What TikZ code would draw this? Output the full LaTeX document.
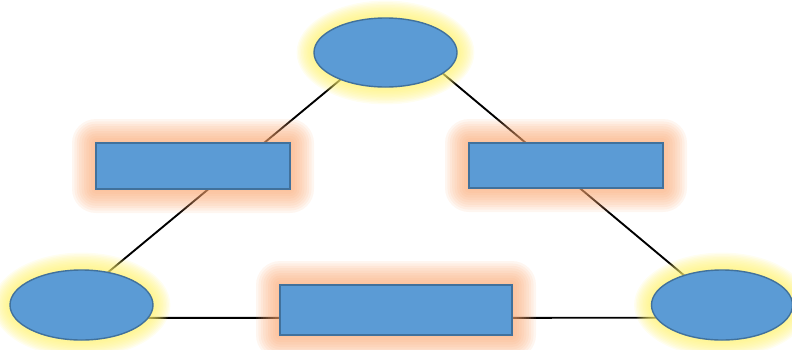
\documentclass[tikz,border=0pt]{standalone}
\usetikzlibrary{shapes.geometric,calc}
\definecolor{nodefill}{RGB}{91,155,213}
\definecolor{nodeline}{RGB}{65,113,156}
\definecolor{glowY}{RGB}{255,242,110}
\definecolor{glowO}{RGB}{250,165,110}
\pgfdeclarelayer{bg}
\pgfdeclarelayer{glow}
\pgfsetlayers{bg,glow,main}
\tikzset{
  ell/.style={ellipse, draw=nodeline, fill=nodefill, line width=1.4pt, inner sep=0pt, outer sep=0pt, minimum width=143pt, minimum height=69pt},
  box/.style={rectangle, draw=nodeline, fill=nodefill, line width=1.6pt, inner sep=0pt, outer sep=0pt, minimum width=194pt, minimum height=46pt},
  link/.style={line width=1.9pt, black}
}
\begin{document}
\begin{tikzpicture}[x=1pt,y=-1pt]
\useasboundingbox (0,0) rectangle (792,349);
\clip (0,0) rectangle (792,349);
\node[ell] (top) at (385.5,52.5) {};
\node[ell, minimum height=70pt] (bl) at (81.5,305) {};
\node[ell, minimum width=141pt, minimum height=70pt] (br) at (722,305) {};
\node[box] (lb) at (193,166) {};
\node[box, minimum height=45pt] (rb) at (566,165.5) {};
\node[box, minimum width=232pt, minimum height=50pt] (bb) at (396,310) {};
\begin{pgfonlayer}{bg}
  \draw[link] (top.211) -- (bl.51);
  \draw[link] (top.-20) -- (br.142);
  \draw[link] (bl.-11) -- (br.191);
\end{pgfonlayer}
\begin{pgfonlayer}{glow}
  \foreach \n/\rx/\ry in {top/71.5/34.5, bl/71.5/35, br/70.5/35}{
    \foreach \i in {1,...,12}{
      \fill[glowY, opacity=0.1] (\n.center) ellipse [x radius=\rx+\i*1.45, y radius=\ry+\i*1.45];
    }
  }
  \foreach \n in {lb,rb,bb}{
    \foreach \i in {1,...,10}{
      \fill[glowO, opacity=0.1, rounded corners=\i*2.4pt] ($(\n.north west)+(-\i*2.4,-\i*2.4)$) rectangle ($(\n.south east)+(\i*2.4,\i*2.4)$);
    }
  }
\end{pgfonlayer}
\end{tikzpicture}
\end{document}
